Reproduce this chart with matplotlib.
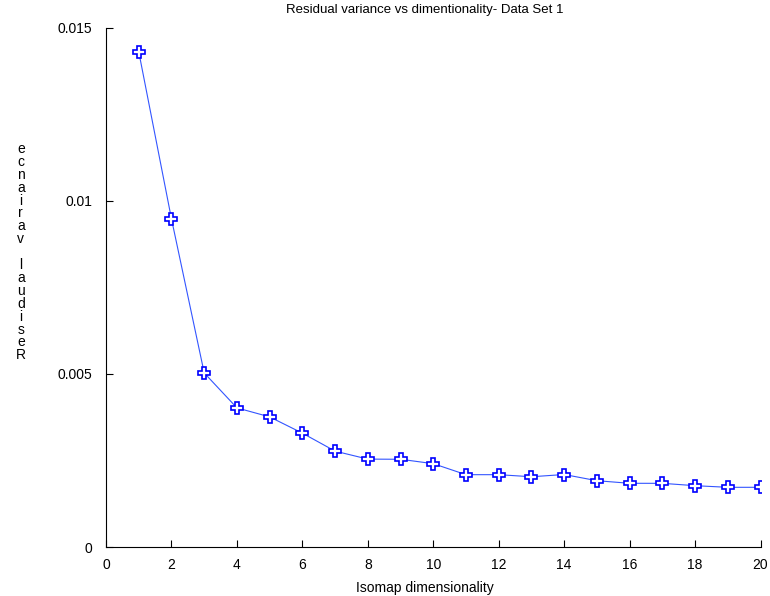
import matplotlib
matplotlib.use('Agg')
from matplotlib import pyplot as plt

plt.rcParams['font.family'] = ['Liberation Sans', 'DejaVu Sans']

dims = list(range(1, 21))
residual = [0.01431, 0.00948, 0.00503, 0.00402, 0.00376, 0.00329, 0.00277,
            0.00254, 0.002535, 0.002408, 0.00209, 0.00209, 0.00203, 0.002095,
            0.001916, 0.001841, 0.00184, 0.001772, 0.001725, 0.001725]
xticks = list(range(0, 21, 2))
yticks = [0, 0.005, 0.01, 0.015]
ytick_labels = ['0', '0.005', '0.01', '0.015']

fig = plt.figure(figsize=(7.7, 5.96), dpi=100)
ax = fig.add_axes([0.1377, 0.0822, 0.850, 0.871])
ax.plot(dims, residual, color='#3355ff', lw=0.8, marker='P', markersize=8,
        markerfacecolor='white', markeredgecolor='blue', markeredgewidth=1.2)

ax.set_xlim(0, 20)
ax.set_ylim(0, 0.015)
ax.set_xticks(xticks)
ax.set_yticks(yticks)
ax.set_yticklabels(ytick_labels)
ax.tick_params(direction='in', length=5, labelsize=10)
ax.tick_params(axis='x', pad=8)
ax.tick_params(axis='y', pad=10)
ax.spines['top'].set_visible(False)
ax.spines['right'].set_visible(False)

fig.text(0.552, 0.983, 'Residual variance vs dimentionality- Data Set 1',
         fontsize=9.5, ha='center', va='center')
fig.text(0.552, 0.0134, 'Isomap dimensionality', fontsize=10,
         ha='center', va='center')

# y label drawn as stacked letters, reversed like the original
label = 'Residual variance'[::-1]
fig.text(0.027, 0.577, '\n'.join(label), fontsize=10, ha='center', va='center',
         linespacing=0.9)

fig.savefig('out.png')
